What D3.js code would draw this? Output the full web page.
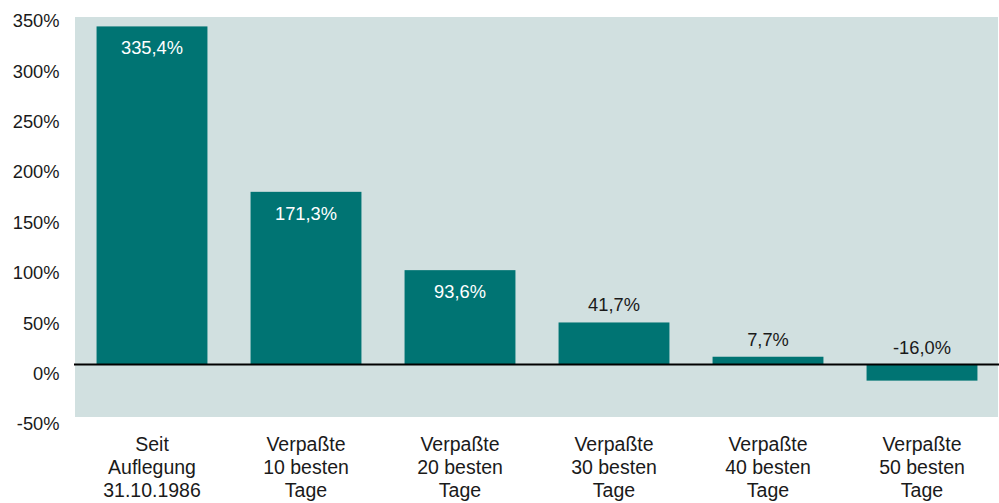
<!DOCTYPE html>
<html>
<head>
<meta charset="utf-8">
<script src="https://cdn.jsdelivr.net/npm/d3@7"></script>
<style>
  html, body { margin: 0; padding: 0; background: #ffffff; }
  svg { display: block; }
  text { font-family: "Liberation Sans", Arial, sans-serif; }
</style>
</head>
<body>
<div id="chart"></div>
<script>
const categories = [
  ["Seit", "Auflegung", "31.10.1986"],
  ["Verpaßte", "10 besten", "Tage"],
  ["Verpaßte", "20 besten", "Tage"],
  ["Verpaßte", "30 besten", "Tage"],
  ["Verpaßte", "40 besten", "Tage"],
  ["Verpaßte", "50 besten", "Tage"]
];
const values = [335.4, 171.3, 93.6, 41.7, 7.7, -16.0];
const valueLabels = ["335,4%", "171,3%", "93,6%", "41,7%", "7,7%", "-16,0%"];
const yTicks = [-50, 0, 50, 100, 150, 200, 250, 300, 350];
const yTickLabels = ["-50%", "0%", "50%", "100%", "150%", "200%", "250%", "300%", "350%"];

const W = 999, H = 503;
const svg = d3.select("#chart").append("svg").attr("width", W).attr("height", H);

const x = d3.scaleBand()
  .domain(d3.range(values.length))
  .range([75, 999])
  .paddingInner(0.28)
  .paddingOuter(0.14);

const y = d3.scaleLinear().domain([-50, 350]).range([414.9, 11.7]);

// plot background
svg.append("rect")
  .attr("x", 75).attr("y", 17)
  .attr("width", 923).attr("height", 400)
  .attr("fill", "#d1e0e0");

// bars
svg.selectAll("rect.bar")
  .data(values)
  .enter().append("rect")
  .attr("class", "bar")
  .attr("x", (d, i) => x(i))
  .attr("width", x.bandwidth())
  .attr("y", d => y(Math.max(0, d)))
  .attr("height", d => Math.abs(y(d) - y(0)))
  .attr("fill", "#007473");

// zero line
svg.append("line")
  .attr("x1", 74).attr("x2", 999)
  .attr("y1", y(0)).attr("y2", y(0))
  .attr("stroke", "#000").attr("stroke-width", 2);

// y axis labels
const yAxis = d3.axisLeft(y)
  .tickValues(yTicks)
  .tickFormat((d, i) => yTickLabels[i])
  .tickSize(0)
  .tickPadding(0);
const gy = svg.append("g").attr("transform", "translate(59.5,0)").call(yAxis);
gy.select(".domain").remove();
gy.selectAll("text")
  .attr("font-family", "'Liberation Sans', Arial, sans-serif")
  .attr("font-size", 18.3)
  .attr("fill", "#1a1a1a")
  .attr("dy", null)
  .attr("y", 15);

// value labels
svg.selectAll("text.val")
  .data(values)
  .enter().append("text")
  .attr("class", "val")
  .attr("x", (d, i) => x(i) + x.bandwidth() / 2)
  .attr("y", d => d > 50 ? y(d) + 28 : y(Math.max(0, d)) - 11)
  .attr("text-anchor", "middle")
  .attr("font-size", 18.3)
  .attr("fill", d => d > 50 ? "#ffffff" : "#1a1a1a")
  .text((d, i) => valueLabels[i]);

// category labels
const cat = svg.selectAll("g.cat")
  .data(categories)
  .enter().append("g")
  .attr("class", "cat")
  .attr("transform", (d, i) => `translate(${x(i) + x.bandwidth() / 2},0)`);
cat.selectAll("text")
  .data(d => d)
  .enter().append("text")
  .attr("x", 0)
  .attr("y", (d, j) => 450.5 + j * 23)
  .attr("text-anchor", "middle")
  .attr("font-size", 19.5)
  .attr("fill", "#1a1a1a")
  .text(d => d);
</script>
</body>
</html>
